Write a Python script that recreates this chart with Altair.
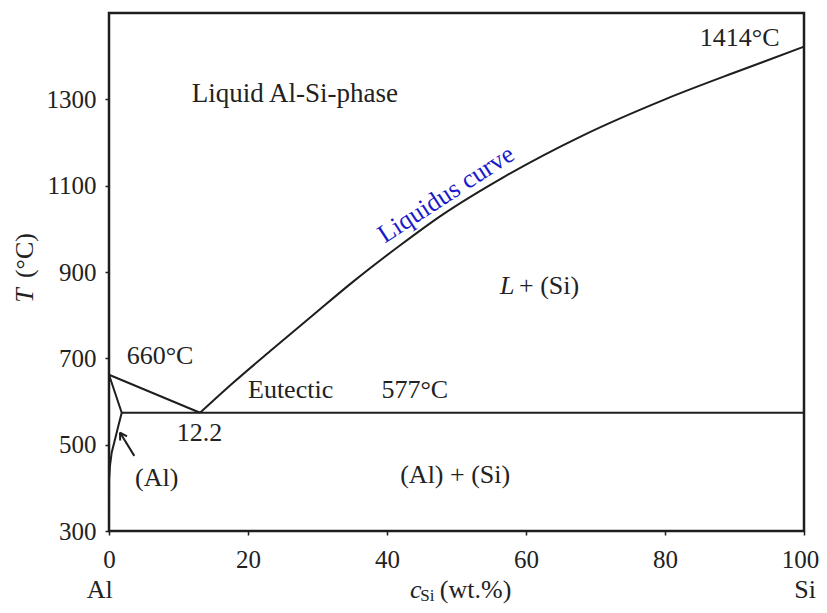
import altair as alt
import pandas as pd

# ---------------- data ----------------
liq_x = [13.1, 17.9, 23.5, 29.2, 35.0, 41.9, 48.0, 56.8, 68.0, 80.0, 91.0, 100.0]
liq_T = [574, 644, 721, 798, 876, 962, 1033, 1120, 1215, 1300, 1368, 1422]

solvus_x = [1.83, 1.34, 0.86, 0.39, 0.14, 0.02, 0.0]
solvus_T = [574, 543, 512, 482, 451, 420, 300]

# straight segments: (seg id, x, T)
seg_id = ["al_liq", "al_liq", "solidus", "solidus", "eutectic", "eutectic",
          "arrow", "arrow", "head1", "head1", "head2", "head2"]
seg_x = [0.0, 13.1, 0.0, 1.83, 1.83, 100.0,
         3.64, 1.58, 1.58, 1.61, 1.58, 2.59]
seg_T = [662, 574, 662, 574, 574, 574,
         474, 528, 528, 509.5, 528, 519.2]

x_ticks = [0, 20, 40, 60, 80, 100]
y_ticks = [300, 500, 700, 900, 1100, 1300]

norm_text = ["660°C", "Eutectic", "577°C", "12.2", "(Al)", "(Al) + (Si)",
             "+ (Si)", "1414°C", "Al", "Si", "(wt.%)"]
norm_x = [2.55, 20.0, 39.2, 9.74, 3.74, 41.9, 59.0, 85.0, -3.2, 98.6, 47.6]
norm_T = [686, 609, 609, 508.6, 404, 412, 848.5, 1424, 145, 144, 145]

big_text = ["Liquid Al-Si-phase"]
big_x = [11.9]
big_T = [1293]

ital_text = ["L", "c"]
ital_x = [56.26, 43.3]
ital_T = [848.5, 145]

sub_text = ["Si"]
sub_x = [44.8]
sub_T = [137]

blue_text = ["Liquidus curve"]
blue_x = [48.5]
blue_T = [1080]

ytitle_ital = ["T"]
ytitle_norm = ["(°C)"]
ytitle_x = [-10.9]
ytitle_T_ital = [829]
ytitle_T_norm = [886]

# ---------------- chart ----------------
FONT = "Liberation Serif"
LINE = "#1e1e1e"

xs = alt.Scale(domain=[0, 100], nice=False, zero=False)
ys = alt.Scale(domain=[300, 1500], nice=False, zero=False)

xenc = alt.X("x:Q", scale=xs,
             axis=alt.Axis(values=x_ticks, title=None, domain=False, grid=False,
                           format="d",
                           tickSize=4, tickColor=LINE, tickWidth=1.5,
                           labelFont=FONT, labelFontSize=25, labelColor="#222",
                           labelPadding=12, labelFlush=False,
                           labelOffset={"condition": {"test": "datum.value === 100", "value": -4},
                                        "value": 0}))
yenc = alt.Y("T:Q", scale=ys,
             axis=alt.Axis(values=y_ticks, title=None, domain=False, grid=False,
                           format="d",
                           tickSize=4, tickColor=LINE, tickWidth=1.5,
                           labelFont=FONT, labelFontSize=25, labelColor="#222",
                           labelPadding=9, labelFlush=False))

liq_df = pd.DataFrame({"x": liq_x, "T": liq_T})
liq = alt.Chart(liq_df).mark_line(color=LINE, strokeWidth=2, interpolate="monotone").encode(
    x=xenc, y=yenc)

sol_df = pd.DataFrame({"x": solvus_x, "T": solvus_T, "o": list(range(len(solvus_x)))})
sol = alt.Chart(sol_df).mark_line(color=LINE, strokeWidth=2).encode(
    x=alt.X("x:Q", scale=xs), y=alt.Y("T:Q", scale=ys), order="o:Q")

seg_df = pd.DataFrame({"seg": seg_id, "x": seg_x, "T": seg_T,
                       "o": list(range(len(seg_id)))})
segs = alt.Chart(seg_df).mark_line(color=LINE, strokeWidth=2).encode(
    x=alt.X("x:Q", scale=xs), y=alt.Y("T:Q", scale=ys), detail="seg:N", order="o:Q")


def txt(texts, xv, tv, **kw):
    df = pd.DataFrame({"x": xv, "T": tv, "t": texts})
    base = dict(font=FONT, color="#222", align="left", baseline="alphabetic")
    base.update(kw)
    return alt.Chart(df).mark_text(**base).encode(
        x=alt.X("x:Q", scale=xs), y=alt.Y("T:Q", scale=ys), text="t:N")


layers = [
    liq, sol, segs,
    txt(norm_text, norm_x, norm_T, fontSize=26),
    txt(big_text, big_x, big_T, fontSize=27),
    txt(ital_text, ital_x, ital_T, fontSize=26, fontStyle="italic"),
    txt(sub_text, sub_x, sub_T, fontSize=17),
    txt(blue_text, blue_x, blue_T, fontSize=26, color="#1a1acd",
        align="center", baseline="middle", angle=327),
    txt(ytitle_ital, ytitle_x, ytitle_T_ital, fontSize=26, fontStyle="italic", angle=270),
    txt(ytitle_norm, ytitle_x, ytitle_T_norm, fontSize=26, angle=270),
]

chart = alt.layer(*layers).properties(
    width=695, height=518,
    autosize=alt.AutoSizeParams(type="none"),
    padding={"left": 101, "top": 5, "right": 15, "bottom": 74},
).configure_view(stroke=LINE, strokeWidth=2.5)

chart.save("out.html", embed_options={"renderer": "svg", "actions": False})
